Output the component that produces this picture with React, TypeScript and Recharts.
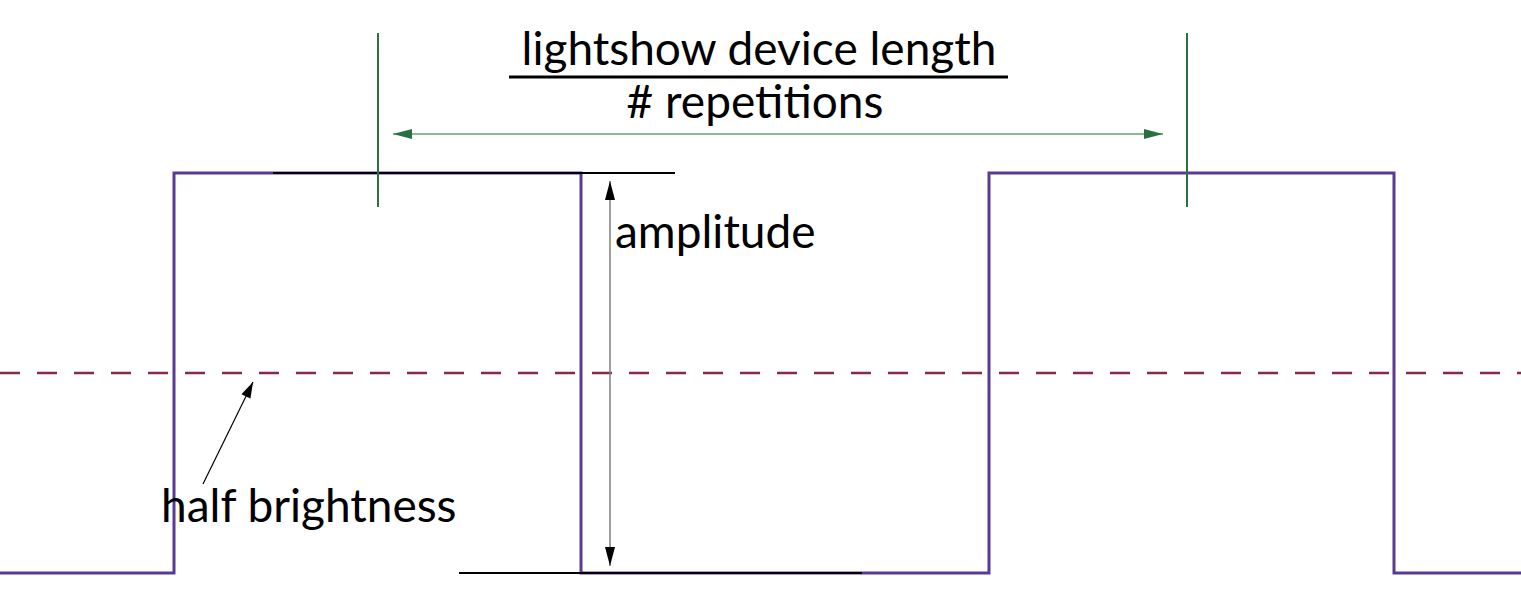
import { ComposedChart, Line, XAxis, YAxis, ReferenceLine, ReferenceDot } from 'recharts';

// square wave (time in diagram units, brightness 0 = off, 1 = full)
const waveTime = [0, 174, 581, 989, 1394, 1521];
const waveLevel = [0, 1, 0, 1, 0, 0];

const halfBrightness = 0.5;

// period markers (green)
const periodMarkX = [378, 1187];
const periodMarkY = [0.915, 1.35];
const periodArrow = { x1: 393, x2: 1163, y: 1.0975 };

// amplitude guides (black)
const highGuide = { x1: 273, x2: 675, y: 1 };
const lowGuide = { x1: 459, x2: 862, y: 0 };
const amplitudeArrow = { x: 610, y1: 0.0175, y2: 0.98 };

// half brightness pointer
const halfArrow = { x1: 203, y1: 0.2225, x2: 253, y2: 0.4775 };

// fraction label
const fractionTop = 'lightshow device length';
const fractionBottom = '# repetitions';
const fractionBar = { x1: 509, x2: 1008, y: 1.24 };

const labels = [
  { text: fractionTop, x: 759, y: 1.27, anchor: 'middle' },
  { text: fractionBottom, x: 755, y: 1.1375, anchor: 'middle' },
  { text: 'amplitude', x: 615, y: 0.8125, anchor: 'start' },
  { text: 'half brightness', x: 161, y: 0.1275, anchor: 'start' },
];

const data = waveTime.map((t, i) => ({ t, level: waveLevel[i] }));

const PURPLE = '#5b3a94';
const GREEN = '#2b7042';
const GREEN_LIGHT = '#8cba99';
const MAROON = '#8a2945';
const FONT = 'Lato, "Open Sans", sans-serif';

function head(x: number, y: number, fromX: number, fromY: number, len: number, half: number, color: string) {
  const dx = x - fromX;
  const dy = y - fromY;
  const d = Math.hypot(dx, dy) || 1;
  const ux = dx / d;
  const uy = dy / d;
  const bx = x - ux * len;
  const by = y - uy * len;
  const pts = `${x},${y} ${bx - uy * half},${by + ux * half} ${bx + uy * half},${by - ux * half}`;
  return <polygon points={pts} fill={color} />;
}

function arrowShape(opts: { stroke: string; headColor: string; width: number; len: number; half: number; both?: boolean }) {
  return (p: any) => {
    const { x1, y1, x2, y2 } = p;
    return (
      <g>
        <line x1={x1} y1={y1} x2={x2} y2={y2} stroke={opts.stroke} strokeWidth={opts.width} />
        {head(x2, y2, x1, y1, opts.len, opts.half, opts.headColor)}
        {opts.both && head(x1, y1, x2, y2, opts.len, opts.half, opts.headColor)}
      </g>
    );
  };
}

function textShape(text: string, anchor: string) {
  return (p: any) => (
    <text x={p.cx} y={p.cy} textAnchor={anchor} fontFamily={FONT} fontSize={46} fill="#000">
      {text}
    </text>
  );
}

export default function App() {
  return (
    <div>
      <style>{'body{margin:0;background:#fff}'}</style>
      <ComposedChart width={1521} height={600} data={data} margin={{ top: 0, right: 0, bottom: 0, left: 0 }}>
        <XAxis dataKey="t" type="number" domain={[0, 1521]} allowDataOverflow hide />
        <YAxis type="number" domain={[-0.0675, 1.4325]} allowDataOverflow hide />

        <ReferenceLine y={halfBrightness} stroke={MAROON} strokeWidth={2.5} strokeDasharray="20 17" />

        <Line
          dataKey="level"
          type="stepAfter"
          stroke={PURPLE}
          strokeWidth={3}
          dot={false}
          activeDot={false}
          isAnimationActive={false}
        />

        <ReferenceLine
          segment={[{ x: highGuide.x1, y: highGuide.y }, { x: highGuide.x2, y: highGuide.y }]}
          stroke="#000"
          strokeWidth={2}
        />
        <ReferenceLine
          segment={[{ x: lowGuide.x1, y: lowGuide.y }, { x: lowGuide.x2, y: lowGuide.y }]}
          stroke="#000"
          strokeWidth={2}
        />
        <ReferenceLine
          segment={[{ x: amplitudeArrow.x, y: amplitudeArrow.y1 }, { x: amplitudeArrow.x, y: amplitudeArrow.y2 }]}
          shape={arrowShape({ stroke: '#7f7f7f', headColor: '#000', width: 1.5, len: 19, half: 5, both: true })}
        />

        {periodMarkX.map((x) => (
          <ReferenceLine
            key={x}
            segment={[{ x, y: periodMarkY[0] }, { x, y: periodMarkY[1] }]}
            stroke={GREEN}
            strokeWidth={2}
          />
        ))}
        <ReferenceLine
          segment={[{ x: periodArrow.x1, y: periodArrow.y }, { x: periodArrow.x2, y: periodArrow.y }]}
          shape={arrowShape({ stroke: GREEN_LIGHT, headColor: GREEN, width: 2, len: 19, half: 5, both: true })}
        />

        <ReferenceLine
          segment={[{ x: halfArrow.x1, y: halfArrow.y1 }, { x: halfArrow.x2, y: halfArrow.y2 }]}
          shape={arrowShape({ stroke: '#000', headColor: '#000', width: 1.2, len: 16, half: 5 })}
        />

        <ReferenceLine
          segment={[{ x: fractionBar.x1, y: fractionBar.y }, { x: fractionBar.x2, y: fractionBar.y }]}
          stroke="#000"
          strokeWidth={3}
        />

        {labels.map((l) => (
          <ReferenceDot key={l.text} x={l.x} y={l.y} r={1} shape={textShape(l.text, l.anchor)} />
        ))}
      </ComposedChart>
    </div>
  );
}
